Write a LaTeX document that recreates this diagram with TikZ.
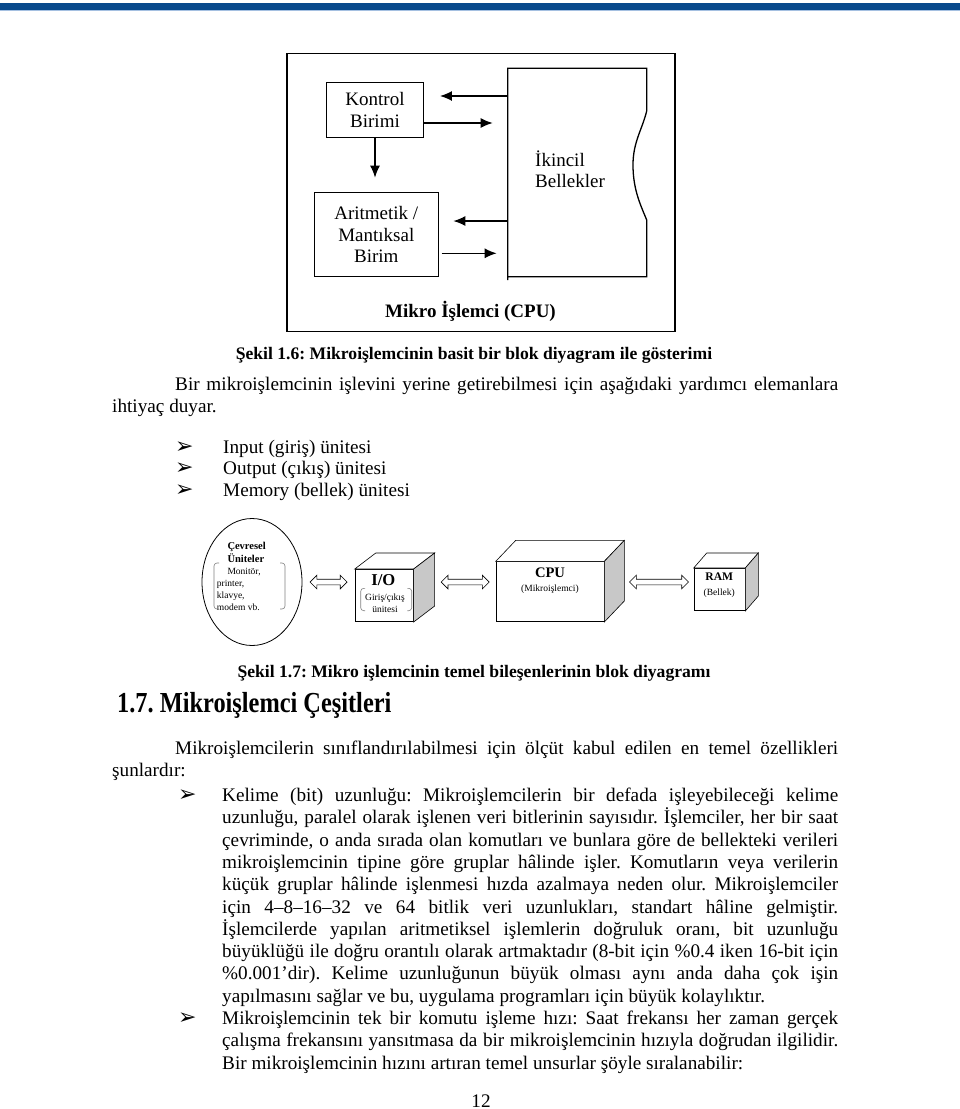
\documentclass[tikz,border=0pt]{standalone}
\usepackage{fontspec}
\setmainfont{Liberation Serif}
\newfontfamily\baslikfont{Liberation Serif}[FakeStretch=0.84]
\newfontfamily\simgefont{DejaVu Sans}
\usetikzlibrary{arrows.meta,positioning,shapes.geometric,shapes.arrows}
\frenchspacing

\definecolor{serit}{RGB}{9,74,140}
\definecolor{seritacik}{RGB}{165,192,225}
\definecolor{yangri}{RGB}{200,200,200}
\definecolor{parantezgri}{RGB}{130,130,130}

\newcommand\govde{\fontsize{19.2}{22.3}\selectfont}
\newcommand\sekilyazi{\fontsize{19}{21.5}\selectfont}
\newcommand\altyazi{\fontsize{17.6}{20}\selectfont\bfseries}
\newcommand\minik{\fontsize{9.5}{12}\selectfont}
\newcommand\madde{{\simgefont\fontsize{22}{22}\selectfont ➢}}

\tikzset{
  kutu/.style={draw, line width=1.3pt, inner sep=0pt, align=center, font=\sekilyazi},
  ok/.style={line width=1.4pt, -{Latex[length=12pt,width=10pt]}},
  yuz/.style={draw, line width=0.6pt, fill=white, inner sep=0pt},
  yan/.style={draw, line width=0.6pt, fill=yangri},
  ciftok/.style={double arrow, draw, line width=0.6pt, fill=white, inner xsep=0pt,
    inner ysep=2.5pt, double arrow head extend=4pt},
  metin/.style={anchor=base west, inner sep=0pt, font=\govde},
  paragraf/.style={metin, text width=#1, align=justify},
  parantez/.style={draw=parantezgri, line width=0.6pt, rounded corners=3pt},
}

\begin{document}
\begin{tikzpicture}[x=1pt, y=-1pt]
  \useasboundingbox (0,0) rectangle (960,1109);
  \fill[white] (0,0) rectangle (960,1109);
  % sayfa ustu serit
  \fill[seritacik] (0,2.5) rectangle (960,10.7);
  \fill[serit] (0,3.3) rectangle (960,9.7);

  % Sekil 1.6
  \node[draw, line width=1.5pt, minimum width=388, minimum height=278.4] (cerceve) at (481,192.5) {};
  \node[kutu, minimum width=96.6, minimum height=55.4] (kontrol) at (375,110) {Kontrol\\Birimi};
  \node[kutu, minimum width=124, minimum height=84.4] (alu) at (376.3,234.5) {Aritmetik /\\Mantıksal\\Birim};
  \draw[line width=1.3pt] (507.7,280) -- (507.7,68.3) -- (646.7,68.3) -- (646.7,111)
    .. controls (642,130) and (633,142) .. (633,165)
    .. controls (633,190) and (641,206) .. (646.7,220) -- (646.7,276.7) -- (507.7,276.7);
  \coordinate (bsol) at (507.7,172.5);
  \node[anchor=west, align=left, inner sep=0pt, font=\sekilyazi] (ikincil) at (535,169) {İkincil\\Bellekler};
  \node[font=\sekilyazi\bfseries] (cpuyazi) at (470.5,311.7) {Mikro İşlemci (CPU)};

  \draw[ok] ([yshift=14]kontrol.east -| bsol) -- ([xshift=16,yshift=14]kontrol.east);
  \draw[ok, shorten >=15pt] ([yshift=-13]kontrol.east) -- ([yshift=-13]kontrol.east -| bsol);
  \draw[ok, shorten >=14pt] (kontrol.south) -- (kontrol.south |- alu.north);
  \draw[ok] ([yshift=13.5]alu.east -| bsol) -- ([xshift=14.4,yshift=13.5]alu.east);
  \draw[ok, shorten <=2.7pt, shorten >=11pt] ([yshift=-18.8]alu.east) -- ([yshift=-18.8]alu.east -| bsol);

  \node[font=\altyazi, anchor=base] (sekil16) at (474,359) {Şekil 1.6: Mikroişlemcinin basit bir blok diyagram ile gösterimi};

  \node[paragraf=726] (p1) at (112,390.5) {\hspace*{63pt}Bir mikroişlemcinin işlevini yerine getirebilmesi için aşağıdaki yardımcı elemanlara\linebreak ihtiyaç duyar.};

  \foreach \t [count=\i] in {Input (giriş) ünitesi, Output (çıkış) ünitesi, Memory (bellek) ünitesi} {
    \node[metin] (isaret\i) at (175,{453+21.5*(\i-1)}) {\madde};
    \node[metin] (oge\i) at (223,{453+21.5*(\i-1)}) {\t};
  }

  % Sekil 1.7
  \node[draw, ellipse, line width=0.8pt, minimum width=100, minimum height=127, inner sep=0pt] (cevre) at (252,582) {};
  \node[anchor=base west, inner sep=0pt, font=\fontsize{10.5}{12}\selectfont\bfseries] (cevre1) at (227.3,549.5) {Çevresel};
  \node[anchor=base west, inner sep=0pt, font=\fontsize{10.5}{12}\selectfont\bfseries] (cevre2) at (227.3,562) {Üniteler};
  \node[anchor=base west, inner sep=0pt, font=\minik] (cihaz1) at (227.3,574.5) {Monitör,};
  \node[anchor=base west, inner sep=0pt, font=\minik] (cihaz2) at (216.7,586.5) {printer,};
  \node[anchor=base west, inner sep=0pt, font=\minik] (cihaz3) at (216.7,598.5) {klavye,};
  \node[anchor=base west, inner sep=0pt, font=\minik] (cihaz4) at (216.7,610.5) {modem vb.};
  \draw[parantez] (219,563) -- (214,563) -- (214,609) -- (219,609);
  \draw[parantez] (280,563) -- (285,563) -- (285,609) -- (280,609);

  % I/O kubu
  \node[yuz, minimum width=58.3, minimum height=52.4] (io) at (384.2,595.5) {};
  \draw[yuz] (io.north west) -- ++(21,-16) -- ([shift={(21,-16)}]io.north east) -- (io.north east) -- cycle;
  \draw[yan] (io.north east) -- ++(21,-16) -- ([shift={(21,-16)}]io.south east) -- (io.south east) -- cycle;
  \node[anchor=base, inner sep=0pt, font=\fontsize{16.6}{18}\selectfont\bfseries] (ioyazi) at (383.3,585.5) {I/O};
  \node[anchor=base, inner sep=0pt, font=\minik] (io1) at (385,600) {Giriş/çıkış};
  \node[anchor=base, inner sep=0pt, font=\minik] (io2) at (385,612) {ünitesi};
  \draw[parantez] (365,588.3) -- (360.7,588.3) -- (360.7,610.7) -- (365,610.7);
  \draw[parantez] (407.4,588.3) -- (411.7,588.3) -- (411.7,610.7) -- (407.4,610.7);
  \coordinate (ioarka) at ([xshift=21]io.east);

  % CPU kubu
  \node[yuz, minimum width=108, minimum height=60] (cpu) at (550,591.7) {};
  \draw[yuz] (cpu.north west) -- ++(20,-21) -- ([shift={(20,-21)}]cpu.north east) -- (cpu.north east) -- cycle;
  \draw[yan] (cpu.north east) -- ++(20,-21) -- ([shift={(20,-21)}]cpu.south east) -- (cpu.south east) -- cycle;
  \node[anchor=base, inner sep=0pt, font=\fontsize{14.6}{16}\selectfont\bfseries] (cpu1) at (550,577.2) {CPU};
  \node[anchor=base, inner sep=0pt, font=\minik] (cpu2) at (550,591) {(Mikroişlemci)};
  \coordinate (cpuarka) at ([xshift=20]cpu.east);

  % RAM kubu
  \node[yuz, minimum width=51, minimum height=42.4] (ram) at (719.5,589.5) {};
  \draw[yuz] (ram.north west) -- ++(13,-15) -- ([shift={(13,-15)}]ram.north east) -- (ram.north east) -- cycle;
  \draw[yan] (ram.north east) -- ++(13,-15) -- ([shift={(13,-15)}]ram.south east) -- (ram.south east) -- cycle;
  \node[anchor=base, inner sep=0pt, font=\fontsize{11.6}{13}\selectfont\bfseries] (ram1) at (719.3,580) {RAM};
  \node[anchor=base, inner sep=0pt, font=\minik] (ram2) at (719.3,595) {(Bellek)};

  \path (cevre.east) -- (cevre.east -| io.west) node[midway, ciftok, minimum height=37] {};
  \path (ioarka |- cevre.east) -- (cpu.west |- cevre.east) node[midway, ciftok, minimum height=48] {};
  \path (cpuarka |- cevre.east) -- (ram.west |- cevre.east) node[midway, ciftok, minimum height=59] {};

  \node[font=\altyazi, anchor=base] (sekil17) at (474,677) {Şekil 1.7: Mikro işlemcinin temel bileşenlerinin blok diyagramı};

  \node[anchor=base west, inner sep=0pt, font={\baslikfont\fontsize{29}{31}\selectfont\bfseries}] (baslik) at (117,712) {1.7. Mikroişlemci Çeşitleri};

  \node[paragraf=726] (p2) at (112,754.5) {\hspace*{63pt}Mikroişlemcilerin sınıflandırılabilmesi için ölçüt kabul edilen en temel özellikleri\linebreak şunlardır:};

  \node[metin] (isaret4) at (178,801.5) {\madde};
  \node[paragraf=616] (p3) at (222,801.5) {Kelime (bit) uzunluğu: Mikroişlemcilerin bir defada işleyebileceği kelime\linebreak
    uzunluğu, paralel olarak işlenen veri bitlerinin sayısıdır. İşlemciler, her bir saat\linebreak
    çevriminde, o anda sırada olan komutları ve bunlara göre de bellekteki verileri\linebreak
    mikroişlemcinin tipine göre gruplar hâlinde işler. Komutların veya verilerin\linebreak
    küçük gruplar hâlinde işlenmesi hızda azalmaya neden olur. Mikroişlemciler\linebreak
    için 4–8–16–32 ve 64 bitlik veri uzunlukları, standart hâline gelmiştir.\linebreak
    İşlemcilerde yapılan aritmetiksel işlemlerin doğruluk oranı, bit uzunluğu\linebreak
    büyüklüğü ile doğru orantılı olarak artmaktadır (8-bit için \%0.4 iken 16-bit için\linebreak
    \%0.001’dir). Kelime uzunluğunun büyük olması aynı anda daha çok işin\linebreak
    yapılmasını sağlar ve bu, uygulama programları için büyük kolaylıktır.};

  \node[metin] (isaret5) at (178,1024.5) {\madde};
  \node[paragraf=616] (p4) at (222,1024.5) {Mikroişlemcinin tek bir komutu işleme hızı: Saat frekansı her zaman gerçek\linebreak
    çalışma frekansını yansıtmasa da bir mikroişlemcinin hızıyla doğrudan ilgilidir.\linebreak
    Bir mikroişlemcinin hızını artıran temel unsurlar şöyle sıralanabilir:};

  \node[anchor=base, inner sep=0pt, font=\govde] (sayfa) at (481,1107) {12};
\end{tikzpicture}
\end{document}
